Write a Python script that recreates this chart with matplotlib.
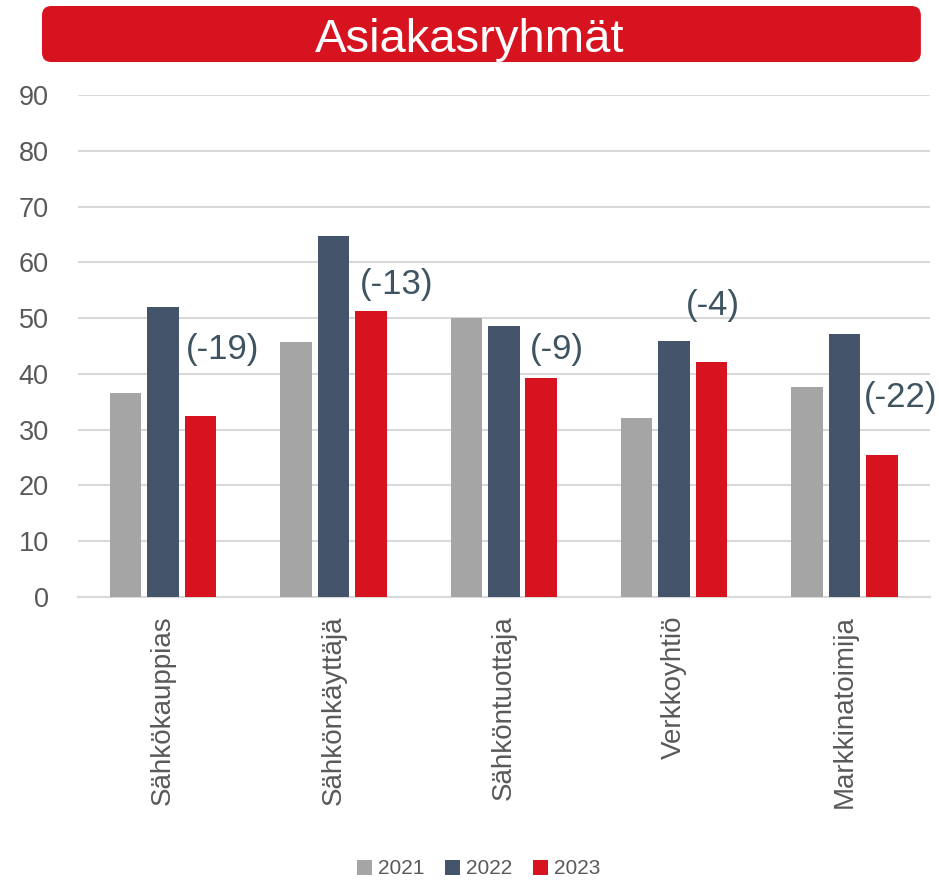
import numpy as np
import matplotlib.pyplot as plt
from matplotlib.patches import FancyBboxPatch

plt.rcParams['font.family'] = ['Liberation Sans', 'DejaVu Sans']

categories = ['Sähkökauppias', 'Sähkönkäyttäjä', 'Sähköntuottaja', 'Verkkoyhtiö', 'Markkinatoimija']
years = ['2021', '2022', '2023']
v2021 = [36.5, 45.8, 50.1, 32.1, 37.7]
v2022 = [51.9, 64.7, 48.6, 45.9, 47.1]
v2023 = [32.5, 51.2, 39.2, 42.2, 25.5]
changes = ['(-19)', '(-13)', '(-9)', '(-4)', '(-22)']

colors = ['#a5a5a5', '#44546a', '#d7131f']
# where the change labels sit (data coords)
label_x = [0.35, 1.37, 2.31, 3.23, 4.33]
label_y = [44.3, 56.0, 44.3, 52.3, 35.7]

fig = plt.figure(figsize=(9.39, 8.81), dpi=100)
ax = fig.add_axes([0.083, 0.3224, 0.907, 0.5698])

x = np.arange(len(categories))
w = 0.185
step = 0.22
for i, (vals, c, yr) in enumerate(zip([v2021, v2022, v2023], colors, years)):
    ax.bar(x + (i - 1) * step, vals, width=w, color=c, label=yr, zorder=3)

for lx, ly, t in zip(label_x, label_y, changes):
    ax.text(lx, ly, t, ha='center', va='center', fontsize=25, color='#3f5461', zorder=4)

ax.set_xlim(-0.5, 4.5)
ax.set_ylim(0, 90)
ax.set_yticks(range(0, 91, 10))
ax.grid(axis='y', color='#d9d9d9', linewidth=1.5, zorder=0)
for s in ['top', 'right', 'left']:
    ax.spines[s].set_visible(False)
ax.spines['bottom'].set_color('#d9d9d9')
ax.spines['bottom'].set_linewidth(1.5)
ax.tick_params(axis='both', length=0, labelcolor='#595959')
ax.tick_params(axis='y', pad=21, labelsize=19.5)
ax.tick_params(axis='x', pad=13, labelsize=20)
ax.set_xticks(x)
ax.set_xticklabels(categories, rotation=90)

# title banner
box = FancyBboxPatch((0.0447, 0.9296), 0.936, 0.0636,
                     boxstyle='round,pad=0,rounding_size=0.01',
                     mutation_aspect=939 / 881,
                     transform=fig.transFigure, facecolor='#d7131f',
                     edgecolor='none')
fig.patches.append(box)
fig.text(0.5, 1 - 52 / 881, 'Asiakasryhmät', ha='center', va='baseline',
         fontsize=34, color='white')

fig.legend(loc='center', bbox_to_anchor=(0.51, 1 - 869 / 881), ncol=3,
           frameon=False, fontsize=15, handlelength=0.7, handleheight=0.7,
           handletextpad=0.3, columnspacing=1.0, labelcolor='#595959')

fig.savefig('out.png', dpi=100)
